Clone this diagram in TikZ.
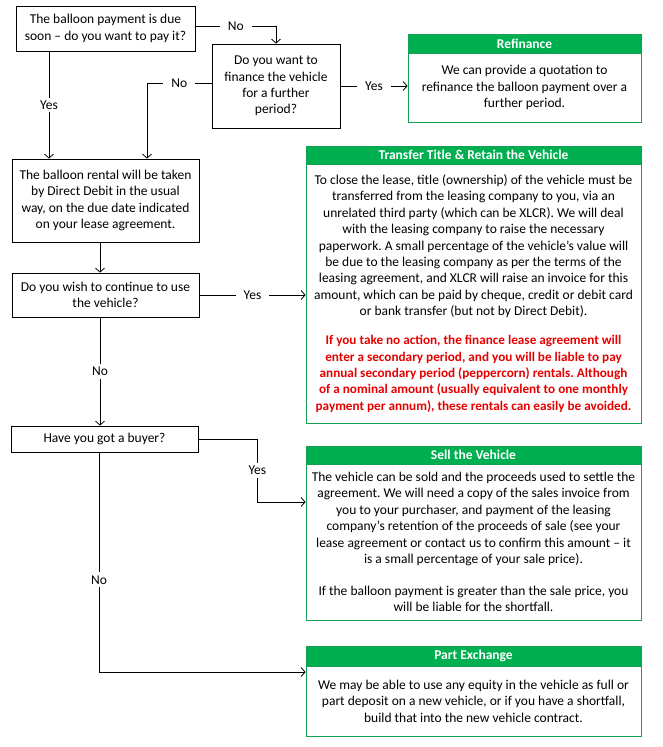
\documentclass[tikz,border=0pt]{standalone}
\usepackage{fontspec}
\setmainfont{Carlito}
\usetikzlibrary{arrows.meta,calc}
\frenchspacing
\definecolor{ggreen}{RGB}{0,176,80}
\definecolor{gborder}{RGB}{20,160,80}
\definecolor{warnred}{RGB}{230,0,0}
\newcommand{\warnline}[1]{{\fontsize{13.2}{16.4}\selectfont\color{warnred}\bfseries #1}}
\tikzset{
  txt/.style={font={\fontsize{13.5}{16.4}\selectfont}},
  qbox/.style={draw, line width=0.8pt, align=center, inner sep=0pt, txt},
  gbody/.style={draw=gborder, line width=0.8pt, align=center, inner sep=0pt, txt},
  ghead/.style={fill=ggreen, draw=gborder, line width=0.8pt, text=white, inner sep=0pt, font={\fontsize{13.5}{15}\selectfont\bfseries}},
  lab/.style={fill=white, inner xsep=8pt, inner ysep=3pt, txt},
  conn/.style={line width=0.8pt},
  arr/.style={conn, -{Straight Barb[length=4pt,width=9pt,line width=0.8pt]}},
}
\begin{document}
\begin{tikzpicture}[x=1pt,y=-1pt]
\useasboundingbox (0,0) rectangle (663,747);
% question boxes
\node[qbox, minimum width=179pt, minimum height=45pt] (q1) at (105.5,28.5)
  {The balloon payment is due\\soon -- do you want to pay it?};
\node[qbox, minimum width=128pt, minimum height=84pt] (q2) at (276,86)
  {Do you want to\\finance the vehicle\\for a further\\period?};
\node[qbox, minimum width=187pt, minimum height=83pt] (q3) at (105.5,200.5)
  {The balloon rental will be taken\\by Direct Debit in the usual\\way, on the due date indicated\\on your lease agreement.};
\node[qbox, minimum width=187pt, minimum height=44pt] (q4) at (105.5,295)
  {Do you wish to continue to use\\the vehicle?};
\node[qbox, minimum width=187pt, minimum height=26pt] (q5) at (104.5,439)
  {Have you got a buyer?};
% outcome boxes
\node[gbody, minimum width=233pt, minimum height=69pt] (r) at (524.5,87.5)
  {We can provide a quotation to\\refinance the balloon payment over a\\further period.};
\node[ghead, minimum width=233pt, minimum height=19pt] (rh) at (524.5,43.5) {Refinance};
\node[gbody, minimum width=335pt, minimum height=259pt] (t) at (473.5,293.5)
  {To close the lease, title (ownership) of the vehicle must be\\
   transferred from the leasing company to you, via an\\
   unrelated third party (which can be XLCR). We will deal\\
   with the leasing company to raise the necessary\\
   paperwork. A small percentage of the vehicle’s value will\\
   be due to the leasing company as per the terms of the\\
   leasing agreement, and XLCR will raise an invoice for this\\
   amount, which can be paid by cheque, credit or debit card\\
   or bank transfer (but not by Direct Debit).\\[12.6pt]
   \warnline{If you take no action, the finance lease agreement will}\\
   \warnline{enter a secondary period, and you will be liable to pay}\\
   \warnline{annual secondary period (peppercorn) rentals. Although}\\
   \warnline{of a nominal amount (usually equivalent to one monthly}\\
   \warnline{payment per annum), these rentals can easily be avoided.}};
\node[ghead, minimum width=335pt, minimum height=18pt] (th) at (473.5,155) {Transfer Title \& Retain the Vehicle};
\node[gbody, minimum width=335pt, minimum height=156pt] (s) at (473.5,542)
  {The vehicle can be sold and the proceeds used to settle the\\
   agreement. We will need a copy of the sales invoice from\\
   you to your purchaser, and payment of the leasing\\
   company’s retention of the proceeds of sale (see your\\
   lease agreement or contact us to confirm this amount -- it\\
   is a small percentage of your sale price).\\[15.6pt]
   If the balloon payment is greater than the sale price, you\\
   will be liable for the shortfall.};
\node[ghead, minimum width=335pt, minimum height=18pt] (sh) at (473.5,455) {Sell the Vehicle};
\node[gbody, minimum width=335pt, minimum height=70pt] (p) at (473.5,701)
  {We may be able to use any equity in the vehicle as full or\\
   part deposit on a new vehicle, or if you have a shortfall,\\
   build that into the new vehicle contract.};
\node[ghead, minimum width=335pt, minimum height=20pt] (ph) at (473.5,656) {Part Exchange};
% connectors
\draw[arr] ([yshift=2.5pt]q1.east) -| node[lab, pos=0.25] {No} (q2.north);
\draw[arr] ([yshift=3pt]q2.west) -| node[lab, pos=0.25] {No} ([xshift=41.5pt]q3.north);
\draw[arr] ([xshift=-56.5pt]q1.south) -- node[lab] {Yes} ([xshift=-56.5pt]q3.north);
\draw[arr] (q2.east) -- node[lab] {Yes} (q2.east -| r.west);
\draw[arr] ([xshift=-5.5pt]q3.south) -- ([xshift=-5.5pt]q4.north);
\draw[arr] (q4.east) -- node[lab] {Yes} (q4.east -| t.west);
\draw[arr] ([xshift=-5.5pt]q4.south) -- node[lab] {No} ([xshift=-4.5pt]q5.north);
\draw[arr] (q5.east) -- ++(59,0) |- node[lab, pos=0.25] {Yes} ([yshift=40pt]s.west);
\draw[arr] ([xshift=-5.5pt]q5.south) |- node[lab, pos=0.29] {No} ([yshift=29pt]p.west);
\end{tikzpicture}
\end{document}
